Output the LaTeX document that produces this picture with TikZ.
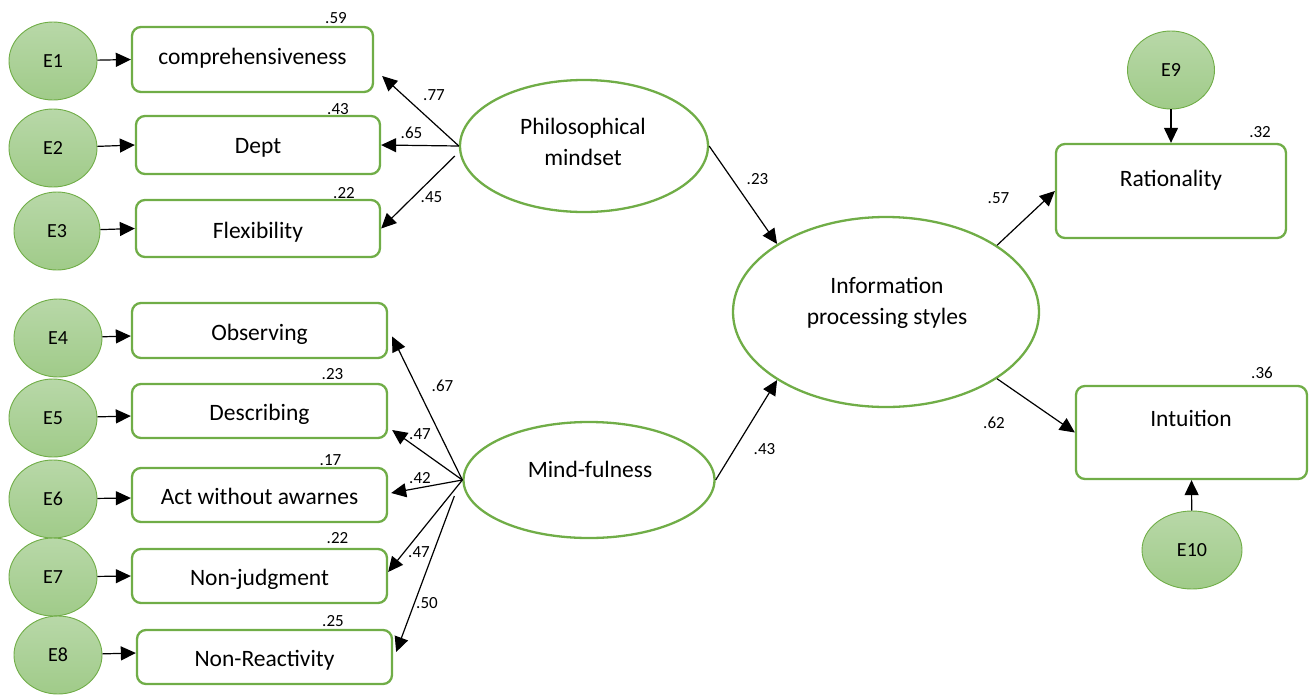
\documentclass[tikz,border=0pt]{standalone}
\usepackage{fontspec}
\setmainfont{Carlito}
\usetikzlibrary{arrows.meta,shapes.geometric}
\definecolor{grn}{RGB}{112,173,71}
\definecolor{eTop}{RGB}{184,216,168}
\definecolor{eBot}{RGB}{160,203,137}
\newcommand\myBig{\fontsize{23.5}{31}\selectfont}
\newcommand\myE{\fontsize{20}{24}\selectfont}
\newcommand\mySmall{\fontsize{17}{20}\selectfont}
\tikzset{
  ebox/.style={ellipse, draw=grn, line width=0.9pt, top color=eTop, bottom color=eBot,
    minimum width=88pt, minimum height=78pt, inner sep=0pt, font=\myE},
  ibox/.style={draw=grn, line width=2.3pt, rounded corners=9pt, inner sep=0pt,
    minimum width=255pt, minimum height=54pt, font=\myBig, text height=19.5pt, text depth=0pt},
  lat/.style={ellipse, draw=grn, line width=2.3pt, inner sep=0pt},
  txt/.style={inner sep=0pt, font=\myBig, align=center},
  val/.style={inner sep=0pt, font=\mySmall},
  arr/.style={-{Triangle[length=15pt,width=14pt]}, line width=1.2pt, black}
}
\begin{document}
\begin{tikzpicture}[x=1pt,y=-1pt]
\useasboundingbox (0,0) rectangle (1310,694);
% error terms
\node[ebox] (E1) at (53,61) {E1};
\node[ebox] (E2) at (53,148) {E2};
\node[ebox,minimum width=86pt] (E3) at (57,231) {E3};
\node[ebox] (E4) at (58,338) {E4};
\node[ebox] (E5) at (53,418) {E5};
\node[ebox] (E6) at (53,499) {E6};
\node[ebox] (E7) at (53,577) {E7};
\node[ebox] (E8) at (58,655) {E8};
\node[ebox,minimum width=87pt] (E9) at (1171,70) {E9};
\node[ebox,minimum width=100pt] (E10) at (1192,550) {E10};
% indicator boxes
\node[ibox,minimum width=241pt,minimum height=65pt,text height=10pt] (comp) at (252.5,59.5) {comprehensiveness};
\node[ibox,minimum width=244pt,minimum height=58pt,text height=16pt] (dept) at (258,145) {Dept};
\node[ibox,minimum width=244pt,minimum height=57pt] (flex) at (258,228.5) {Flexibility};
\node[ibox,minimum height=55pt] (obs) at (259.5,330.5) {Observing};
\node[ibox] (desc) at (259.5,411) {Describing};
\node[ibox] (act) at (259.5,495) {Act without awarnes};
\node[ibox] (nonj) at (259.5,576) {Non-judgment};
\node[ibox] (nonr) at (264.5,657) {Non-Reactivity};
\node[ibox,minimum width=230pt,minimum height=94pt] (rat) at (1171,191) {};
\node[txt] (ratT) at (1171,180) {Rationality};
\node[ibox,minimum width=231pt,minimum height=93pt] (int) at (1191.5,432.5) {};
\node[txt] (intT) at (1191,418) {Intuition};
% latent variables
\node[lat,minimum width=248pt,minimum height=132pt] (phil) at (584,146) {};
\node[txt] (philT) at (583,142) {Philosophical\\mindset};
\node[lat,minimum width=251pt,minimum height=116pt] (mind) at (589,480) {};
\node[txt] (mindT) at (590,469) {Mind-fulness};
\node[lat,minimum width=306pt,minimum height=190pt] (ips) at (886,312) {};
\node[txt] (ipsT) at (887,303) {Information\\processing styles};
% error arrows
\draw[arr] (E1) -- (comp.west);
\draw[arr] (E2) -- (dept.west);
\draw[arr] (E3) -- (flex.west);
\draw[arr] (E4) -- ([yshift=-5.5pt]obs.west);
\draw[arr] (E5) -- ([yshift=-5pt]desc.west);
\draw[arr] (E6) -- ([yshift=-3pt]act.west);
\draw[arr] (E7) -- (nonj.west);
\draw[arr] (E8) -- ([yshift=4pt]nonr.west);
\draw[arr] (E9) -- (rat.north);
\draw[arr] (E10) -- (int.south);
% loadings
\draw[arr] (phil.west) -- ([xshift=8pt,yshift=-16.5pt]comp.east);
\draw[arr] (phil.west) -- (dept.east);
\draw[arr] ([xshift=-4pt,yshift=-10pt]phil.west) -- (flex.east);
\draw[arr] (mind.west) -- ([xshift=4pt,yshift=-6pt]obs.east);
\draw[arr] (mind.west) -- ([xshift=4pt,yshift=-19pt]desc.east);
\draw[arr] (mind.west) -- ([xshift=3pt,yshift=2pt]act.east);
\draw[arr] (mind.west) -- ([yshift=4pt]nonj.east);
\draw[arr] ([xshift=-8pt,yshift=-16pt]mind.west) -- ([xshift=3pt,yshift=5pt]nonr.east);
% structural paths
\draw[arr] (phil.east) -- (ips.148);
\draw[arr] (mind.east) -- (ips.212);
\draw[arr] (ips.31) -- (rat.west);
\draw[arr] (ips.-31) -- (int.west);
% values
\node[val] (v1) at (336,18.5) {.59};
\node[val] (v2) at (338,109.5) {.43};
\node[val] (v3) at (344,193.5) {.22};
\node[val] (v4) at (332.5,374.5) {.23};
\node[val] (v5) at (330.5,460.5) {.17};
\node[val] (v6) at (337.5,538.5) {.22};
\node[val] (v7) at (333,621.5) {.25};
\node[val] (v8) at (1260,132.5) {.32};
\node[val] (v9) at (1262,372.5) {.36};
\node[val] (l1) at (434,95) {.77};
\node[val] (l2) at (411.5,133) {.65};
\node[val] (l3) at (431.5,197.5) {.45};
\node[val] (l4) at (442.5,386) {.67};
\node[val] (l5) at (420,434.5) {.47};
\node[val] (l6) at (420,478.5) {.42};
\node[val] (l7) at (419,552.5) {.47};
\node[val] (l8) at (427,603) {.50};
\node[val] (l9) at (757.5,179) {.23};
\node[val] (l10) at (764.5,449.5) {.43};
\node[val] (l11) at (998.5,198.5) {.57};
\node[val] (l12) at (994,422.5) {.62};
\end{tikzpicture}
\end{document}
